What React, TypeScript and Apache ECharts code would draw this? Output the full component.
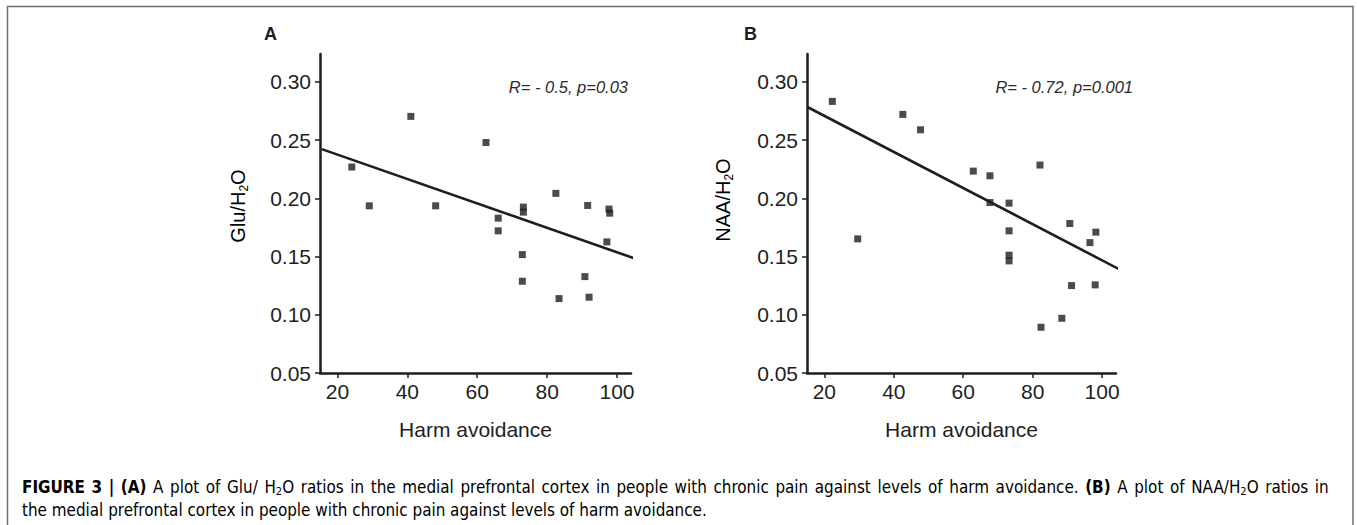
import React, { useEffect, useRef } from "react";
import * as echarts from "echarts";

// ---- data ----
const xTicks = [20, 40, 60, 80, 100];
const yTicks = [0.05, 0.1, 0.15, 0.2, 0.25, 0.3];

const harmA = [24.1, 29.1, 41.0, 48.1, 62.5, 66.0, 66.0, 73.2, 73.2, 72.9, 72.9, 82.5, 83.4, 91.6, 90.8, 92.0, 97.7, 97.9, 97.1];
const gluA = [0.2269, 0.1936, 0.2704, 0.1936, 0.248, 0.183, 0.1721, 0.1925, 0.1882, 0.1517, 0.1288, 0.2043, 0.1139, 0.1939, 0.1328, 0.1151, 0.1908, 0.1873, 0.1626];
const fitA = [[15.5, 0.2423], [105.6, 0.1478]];

const harmB = [22.3, 29.6, 42.6, 47.7, 62.9, 67.7, 67.7, 73.2, 73.2, 73.2, 73.2, 82.1, 82.4, 88.4, 90.7, 91.2, 96.5, 98.2, 98.0];
const naaB = [0.2833, 0.1652, 0.2721, 0.2589, 0.2234, 0.2194, 0.1964, 0.1959, 0.1721, 0.1512, 0.1463, 0.2286, 0.0893, 0.097, 0.1784, 0.1251, 0.162, 0.171, 0.1257];
const fitB = [[15.1, 0.2785], [109.0, 0.1328]];

const statA = "R= - 0.5, p=0.03";
const statB = "R= - 0.72, p=0.001";
const xName = "Harm avoidance";

const captionLine1: [string, string][] = [
  ["b", "FIGURE 3 | (A)"],
  ["n", " A plot of Glu/ H"],
  ["s", "2"],
  ["n", "O ratios in the medial prefrontal cortex in people with chronic pain against levels of harm avoidance. "],
  ["b", "(B)"],
  ["n", " A plot of NAA/H"],
  ["s", "2"],
  ["n", "O ratios in"],
];
const captionLine2 = "the medial prefrontal cortex in people with chronic pain against levels of harm avoidance.";

const FONT = "'Liberation Sans', Arial, Helvetica, sans-serif";
const CAP_FONT = "'DejaVu Sans Condensed', 'DejaVu Sans', sans-serif";
const CAP_SIZE = 16.9;
const CAP_SUB = 11;
const INK = "#1e1e1e";

function xAxis(gridIndex: number) {
  return {
    type: "value",
    gridIndex,
    min: 15,
    max: 104,
    name: xName,
    nameLocation: "middle",
    nameGap: 46,
    nameTextStyle: { fontSize: 21, color: INK, fontFamily: FONT },
    axisLine: { show: true, onZero: false, lineStyle: { color: INK, width: 2.5 } },
    axisTick: { show: true, length: 5, customValues: xTicks, lineStyle: { color: INK, width: 1.5 } },
    axisLabel: { customValues: xTicks, fontSize: 21, color: INK, margin: 8, fontFamily: FONT },
    splitLine: { show: false },
  };
}

function yAxis(gridIndex: number) {
  return {
    type: "value",
    gridIndex,
    min: 0.05,
    max: 0.324,
    axisLine: { show: true, onZero: false, lineStyle: { color: INK, width: 2.5 } },
    axisTick: { show: true, length: 5, customValues: yTicks, lineStyle: { color: INK, width: 1.5 } },
    axisLabel: {
      customValues: yTicks,
      fontSize: 21,
      color: INK,
      margin: 9,
      fontFamily: FONT,
      formatter: (v: number) => v.toFixed(2),
    },
    splitLine: { show: false },
  };
}

const subRich = {
  a: { fontSize: 20, lineHeight: 24, color: INK, fontFamily: FONT },
  s: { fontSize: 12, lineHeight: 12, color: INK, fontFamily: FONT, verticalAlign: "bottom" },
};

function capFont(style: string) {
  if (style === "b") return `bold ${CAP_SIZE}px ${CAP_FONT}`;
  if (style === "s") return `${CAP_SUB}px ${CAP_FONT}`;
  return `${CAP_SIZE}px ${CAP_FONT}`;
}

// Justify the first caption line to the given width, by widening its spaces.
function justified(segs: [string, string][], target: number) {
  const ctx = document.createElement("canvas").getContext("2d")!;
  let natural = 0;
  let spaces = 0;
  for (const [st, tx] of segs) {
    ctx.font = capFont(st);
    natural += ctx.measureText(tx).width;
    spaces += tx.split(" ").length - 1;
  }
  ctx.font = capFont("n");
  const spW = ctx.measureText(" ").width;
  const extra = spaces > 0 ? Math.max(0, (target - natural) / spaces) : 0;
  const tokens: string[] = [];
  for (const [st, tx] of segs) {
    const parts = tx.split(" ");
    parts.forEach((p, i) => {
      if (i > 0) tokens.push("{sp| }");
      if (p.length) tokens.push(`{${st}|${p}}`);
    });
  }
  return { text: tokens.join(""), spaceWidth: spW + extra };
}

export default function App() {
  const ref = useRef<HTMLDivElement>(null);
  useEffect(() => {
    if (!ref.current) return;
    const chart = echarts.init(ref.current, undefined, { renderer: "svg" });
    const line1 = justified(captionLine1, 1308);
    const capRich = {
      b: { fontSize: CAP_SIZE, fontWeight: "bold", color: "#1a1a1a", fontFamily: CAP_FONT, lineHeight: 20 },
      n: { fontSize: CAP_SIZE, color: "#333", fontFamily: CAP_FONT, lineHeight: 20 },
      s: { fontSize: CAP_SUB, color: "#333", fontFamily: CAP_FONT, lineHeight: 10, verticalAlign: "bottom" },
      sp: { fontSize: CAP_SIZE, fontFamily: CAP_FONT, lineHeight: 20, width: line1.spaceWidth },
    };
    chart.setOption({
      animation: false,
      backgroundColor: "#fff",
      grid: [
        { left: 320, top: 54, width: 311, height: 319 },
        { left: 807, top: 54, width: 309, height: 319 },
      ],
      xAxis: [xAxis(0), xAxis(1)],
      yAxis: [yAxis(0), yAxis(1)],
      series: [
        {
          type: "scatter",
          xAxisIndex: 0,
          yAxisIndex: 0,
          symbol: "rect",
          symbolSize: 7,
          itemStyle: { color: INK },
          data: harmA.map((x, i) => [x, gluA[i]]),
        },
        {
          type: "line",
          xAxisIndex: 0,
          yAxisIndex: 0,
          showSymbol: false,
          clip: false,
          lineStyle: { color: INK, width: 2.6 },
          data: fitA,
        },
        {
          type: "scatter",
          xAxisIndex: 1,
          yAxisIndex: 1,
          symbol: "rect",
          symbolSize: 7,
          itemStyle: { color: INK },
          data: harmB.map((x, i) => [x, naaB[i]]),
        },
        {
          type: "line",
          xAxisIndex: 1,
          yAxisIndex: 1,
          showSymbol: false,
          clip: false,
          lineStyle: { color: INK, width: 2.6 },
          data: fitB,
        },
      ],
      graphic: [
        {
          type: "rect",
          shape: { x: 7.5, y: 6.5, width: 1345.5, height: 540 },
          style: { fill: "none", stroke: "#6e6e6e", lineWidth: 1.5 },
          silent: true,
        },
        {
          type: "text",
          x: 264,
          y: 34,
          style: { text: "A", fontSize: 18, fontWeight: "bold", fill: INK, fontFamily: FONT, verticalAlign: "middle" },
        },
        {
          type: "text",
          x: 744,
          y: 34,
          style: { text: "B", fontSize: 18, fontWeight: "bold", fill: INK, fontFamily: FONT, verticalAlign: "middle" },
        },
        {
          type: "text",
          x: 628,
          y: 87,
          style: { text: statA, fontSize: 16.5, fontStyle: "italic", fill: "#2a2a2a", fontFamily: FONT, align: "right", verticalAlign: "middle" },
        },
        {
          type: "text",
          x: 1133,
          y: 87,
          style: { text: statB, fontSize: 16.5, fontStyle: "italic", fill: "#2a2a2a", fontFamily: FONT, align: "right", verticalAlign: "middle" },
        },
        {
          type: "text",
          x: 238,
          y: 206,
          rotation: Math.PI / 2,
          style: { text: "{a|Glu/H}{s|2}{a|O}", rich: subRich, align: "center", verticalAlign: "middle" },
        },
        {
          type: "text",
          x: 723,
          y: 200,
          rotation: Math.PI / 2,
          style: { text: "{a|NAA/H}{s|2}{a|O}", rich: subRich, align: "center", verticalAlign: "middle" },
        },
        {
          type: "text",
          x: 22,
          y: 487,
          style: { text: line1.text, rich: capRich, align: "left", verticalAlign: "middle" },
        },
        {
          type: "text",
          x: 22,
          y: 510,
          style: { text: `{n|${captionLine2}}`, rich: capRich, align: "left", verticalAlign: "middle" },
        },
      ],
    });
    return () => chart.dispose();
  }, []);
  return (
    <div
      ref={ref}
      style={{ position: "fixed", left: 0, top: 0, width: 1357, height: 525, background: "#fff" }}
    />
  );
}
